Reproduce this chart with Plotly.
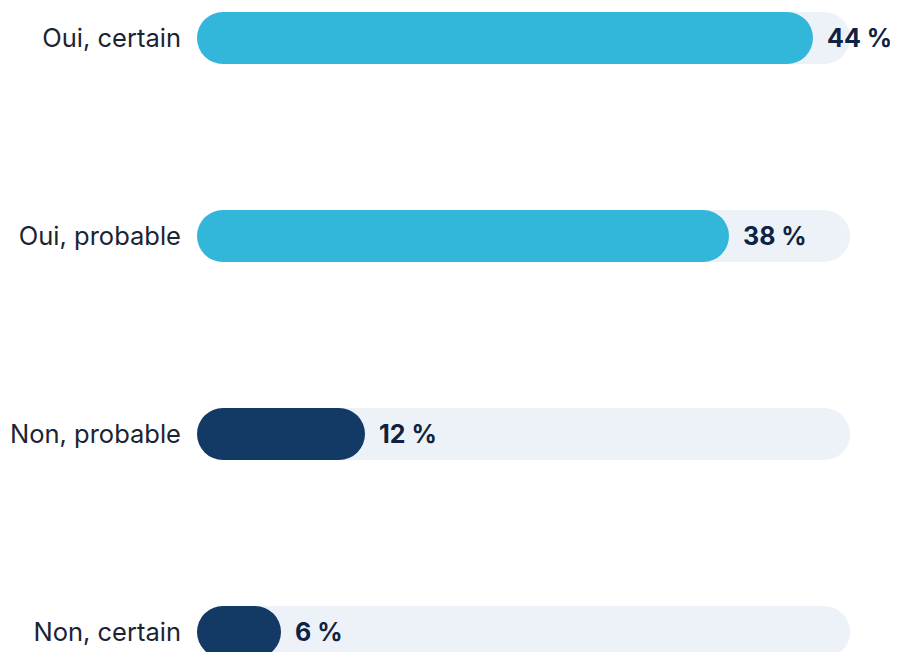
import plotly.graph_objects as go

categories = ["Oui, certain", "Oui, probable", "Non, probable", "Non, certain"]
values = [44, 38, 12, 6]
bar_colors = ["#32B6DA", "#32B6DA", "#123A64", "#123A64"]
track_max = 46.65
value_labels = [f"{v} %" for v in values]

TRACK_COLOR = "#EDF2F9"
BAR_W = 0.263
R = 26

fig = go.Figure()

fig.add_trace(go.Bar(
    y=categories, x=[track_max] * len(categories), base=[0] * len(categories),
    orientation="h", width=BAR_W,
    marker=dict(color=TRACK_COLOR, cornerradius=R, line=dict(width=0)),
    hoverinfo="skip", showlegend=False))
fig.add_trace(go.Bar(
    y=categories, x=values, base=[0] * len(categories), orientation="h", width=BAR_W,
    marker=dict(color=bar_colors, cornerradius=R, line=dict(width=0)),
    hoverinfo="skip", showlegend=False))

for c, v, t in zip(categories, values, value_labels):
    fig.add_annotation(x=v, y=c, text=t, xanchor="left", yanchor="middle", xshift=12,
                       showarrow=False, font=dict(family="Inter", size=25, color="#0F2340", weight="bold"))

fig.update_layout(
    width=890, height=644, barmode="overlay",
    margin=dict(l=189, r=0, t=0, b=0),
    paper_bgcolor="white", plot_bgcolor="white",
    xaxis=dict(range=[0, 701 / 14], visible=False, fixedrange=True),
    yaxis=dict(categoryorder="array", categoryarray=categories,
               range=[3.101, -0.1515], showgrid=False, zeroline=False, showline=False,
               ticks="", ticklabelstandoff=15,
               tickfont=dict(family="Inter", size=25.5, color="#1A2433")),
)

fig.write_html("out.html")
